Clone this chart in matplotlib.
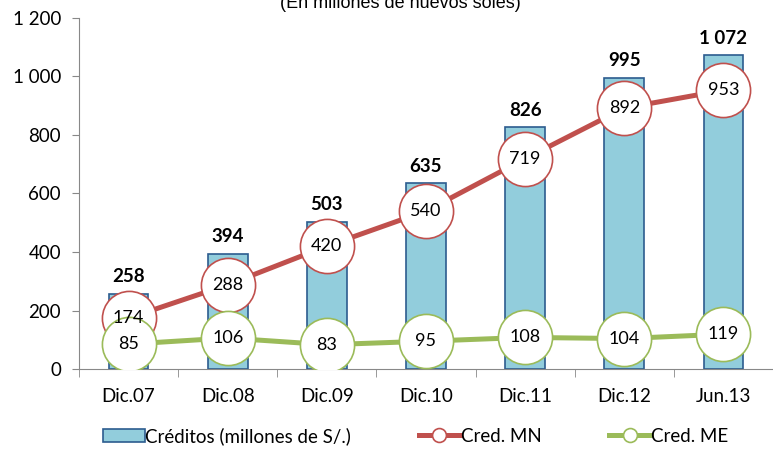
import matplotlib.pyplot as plt
from matplotlib.lines import Line2D
from matplotlib.patches import Patch

categories = ['Dic.07', 'Dic.08', 'Dic.09', 'Dic.10', 'Dic.11', 'Dic.12', 'Jun.13']
creditos = [258, 394, 503, 635, 826, 995, 1072]
cred_mn = [174, 288, 420, 540, 719, 892, 953]
cred_me = [85, 106, 83, 95, 108, 104, 119]
yticks = [0, 200, 400, 600, 800, 1000, 1200]
ytick_labels = ['0', '200', '400', '600', '800', '1 000', '1 200']

plt.rcParams['font.family'] = ['Lato', 'DejaVu Sans']

W, H = 773, 449
fig = plt.figure(figsize=(W / 100, H / 100), dpi=100)
ax = fig.add_axes([79 / W, 80 / H, (773 - 79) / W, 351 / H])

x = list(range(len(categories)))
bar_c = '#92CDDC'
bar_e = '#2C5C8F'
red = '#C0504D'
green = '#9BBB59'

ax.bar(x, creditos, width=0.4, color=bar_c, edgecolor=bar_e, linewidth=1.2, zorder=2)
for xi, v in zip(x, creditos):
    ax.text(xi, v + 58, f'{v:,}'.replace(',', ' '), ha='center', va='center',
            fontsize=13.5, fontweight='bold', zorder=6)

ms = 39
ax.plot(x, cred_mn, color=red, lw=3.6, marker='o', ms=ms, mfc='white', mec=red,
        mew=1.2, zorder=3)
ax.plot(x, cred_me, color=green, lw=3.6, marker='o', ms=ms, mfc='white', mec=green,
        mew=1.2, zorder=4)
for xi, v in zip(x, cred_mn):
    ax.text(xi, v, str(v), ha='center', va='center', fontsize=13, zorder=5)
for xi, v in zip(x, cred_me):
    ax.text(xi, v, str(v), ha='center', va='center', fontsize=13, zorder=5)

ax.set_xlim(-0.5, 6 + (773 - 742) / 102)
ax.set_ylim(0, 1200)
ax.set_yticks(yticks)
ax.set_yticklabels(ytick_labels, fontsize=13.5)
ax.set_xticks(x)
ax.set_xticklabels(categories, fontsize=13.5)
ax.tick_params(axis='x', length=0, pad=14)
ax.tick_params(axis='y', length=5, color='#888888', pad=8)
ax.set_xticks([i + 0.5 for i in range(-1, 7)], minor=True)
ax.tick_params(axis='x', which='minor', length=6, color='#888888')
for s in ['top', 'right']:
    ax.spines[s].set_visible(False)
for s in ['left', 'bottom']:
    ax.spines[s].set_color('#888888')

fig.text(400 / W, 1 - 4 / H, '(En millones de nuevos soles)', ha='center', va='center',
         fontsize=13, family=['Liberation Sans'])

handles = [
    Patch(facecolor=bar_c, edgecolor=bar_e, linewidth=1.2),
    Line2D([0], [0], color=red, lw=3.6, marker='o', ms=10, mfc='white', mec=red, mew=1.2),
    Line2D([0], [0], color=green, lw=3.6, marker='o', ms=10, mfc='white', mec=green, mew=1.2),
]
labels = ['Créditos (millones de S/.)', 'Cred. MN', 'Cred. ME']
fig.legend(handles, labels, loc='center', bbox_to_anchor=(416 / W, 1 - 436 / H), ncol=3,
           frameon=False, fontsize=13.5, handlelength=2.2, handletextpad=0.05,
           columnspacing=3.6)

fig.savefig('out.png', dpi=100)
